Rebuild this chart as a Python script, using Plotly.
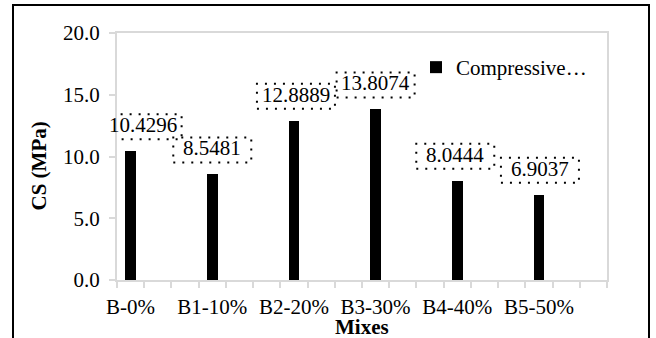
import plotly.graph_objects as go

# ---- data ----
mixes = ["B-0%", "B1-10%", "B2-20%", "B3-30%", "B4-40%", "B5-50%"]
cs_values = [10.4296, 8.5481, 12.8889, 13.8074, 8.0444, 6.9037]
series_name = "Compressive…"
y_ticks = [0, 5, 10, 15, 20]

# the original chart has two empty category slots after each mix (18 slots)
slot_step = 3
n_slots = 18
positions = [i * slot_step for i in range(len(mixes))]
label_xshift = [12, 0, 2, 0, -2, 1]

FONT = "Liberation Serif"
GRAY = "#d9d9d9"

W, H = 656, 338
L, R, T, B = 117, 49, 33, 58
pw, ph = W - L - R, H - T - B

fig = go.Figure()
fig.add_trace(go.Bar(
    x=positions, y=cs_values, width=0.4, name=series_name,
    marker=dict(color="black", line=dict(width=0)),
    showlegend=True,
))

# data labels with dotted boxes
for xp, v, xs in zip(positions, cs_values, label_xshift):
    fig.add_annotation(x=xp, y=v, xref="x", yref="y", text=f"{v:.4f}",
                       showarrow=False, xshift=xs, yshift=26,
                       font=dict(family=FONT, size=21, color="black"),
                       xanchor="center", yanchor="middle")
    fig.add_shape(type="rect", xref="x", yref="y",
                  xsizemode="pixel", ysizemode="pixel",
                  xanchor=xp, yanchor=v,
                  x0=xs - 39, x1=xs + 39, y0=12, y1=37,
                  line=dict(color="black", width=2, dash="2px,7px"),
                  fillcolor="rgba(0,0,0,0)")

# axis titles
fig.add_annotation(xref="paper", yref="paper",
                   x=(38.5 - L) / pw, y=(H - B - 166) / ph,
                   text="<b>CS (MPa)</b>", textangle=-90, showarrow=False,
                   font=dict(family=FONT, size=21, color="black"),
                   xanchor="center", yanchor="middle")
fig.add_annotation(xref="paper", yref="paper",
                   x=0.5, y=(H - B - 327) / ph,
                   text="<b>Mixes</b>", showarrow=False,
                   font=dict(family=FONT, size=21, color="black"),
                   xanchor="center", yanchor="middle")

# outer chart frame
fig.add_shape(type="rect", xref="paper", yref="paper",
              x0=(13 - L) / pw, x1=(649 - L) / pw,
              y0=(H - B - 345) / ph, y1=(H - B - 5) / ph,
              line=dict(color="black", width=2), layer="above")

fig.update_layout(
    width=W, height=H,
    margin=dict(l=L, r=R, t=T, b=B, pad=0),
    paper_bgcolor="white", plot_bgcolor="white",
    font=dict(family=FONT, size=21, color="black"),
    bargap=0,
    legend=dict(x=(416 - L) / pw, y=(H - B - 47) / ph,
                xanchor="left", yanchor="top",
                bgcolor="rgba(0,0,0,0)",
                font=dict(family=FONT, size=21, color="black")),
    xaxis=dict(
        range=[-0.5, n_slots - 0.5],
        tickvals=positions, ticktext=mixes,
        ticks="", showgrid=False, zeroline=False,
        showline=True, linecolor=GRAY, linewidth=2, mirror=True,
        minor=dict(tick0=-0.5, dtick=1, ticks="outside", ticklen=6,
                   tickcolor=GRAY, tickwidth=2, showgrid=False),
        tickfont=dict(family=FONT, size=21, color="black"),
        ticklabelstandoff=7,
    ),
    yaxis=dict(
        range=[0, 20], tickvals=y_ticks, tickformat=".1f",
        ticks="outside", ticklen=6, tickcolor=GRAY, tickwidth=2,
        showgrid=False, zeroline=False,
        showline=True, linecolor=GRAY, linewidth=2, mirror=True,
        tickfont=dict(family=FONT, size=21, color="black"),
        ticklabelstandoff=5,
    ),
)

fig.write_html("out.html", config={"displayModeBar": False},
               post_script="document.body.style.margin='0';")
